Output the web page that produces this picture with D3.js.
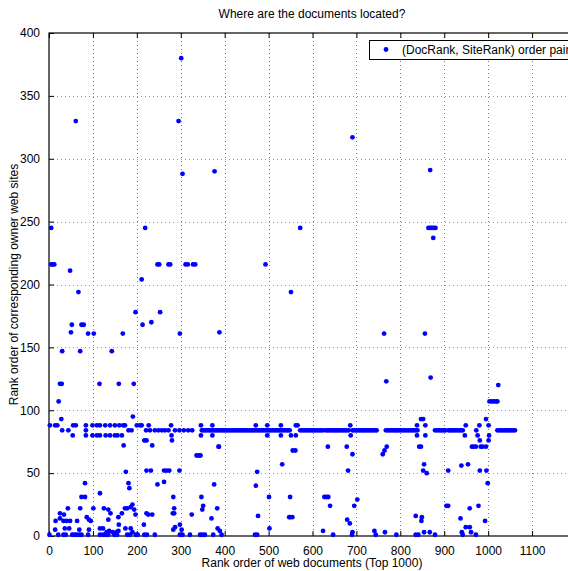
<!DOCTYPE html>
<html>
<head>
<meta charset="utf-8">
<script src="https://cdnjs.cloudflare.com/ajax/libs/d3/7.8.5/d3.min.js"></script>
<style>
  body { margin: 0; background: #fff; }
  text { font-family: "Liberation Sans", Arial, sans-serif; fill: #000; }
</style>
</head>
<body>
<script>
// tick values
var xTicks = [0, 100, 200, 300, 400, 500, 600, 700, 800, 900, 1000, 1100];
var yTicks = [0, 50, 100, 150, 200, 250, 300, 350, 400];

// scattered (DocRank, SiteRank) pairs
var upperPoints = [
  [5,245],[61,330],[219,245],[295,330],[301,380],[304,288],[377,290],[572,245],
  [691,317],[868,291],[864,245],[868,245],[872,245],[876,245],[880,245],[875,237]
];

var middlePoints = [
  [5,216],[8,216],[12,216],[48,211],[67,194],[30,147],[50,162],[52,168],[71,147],
  [74,168],[79,168],[89,161],[102,161],[115,121],[143,147],[159,121],[168,161],
  [193,121],[197,178],[211,204],[213,168],[233,170],[247,216],[251,216],[253,178],
  [272,216],[276,216],[298,161],[311,216],[316,216],[328,216],[333,216],[388,162],
  [493,216],[551,194],[763,161],[856,161],[768,123],[869,126],[1023,120],
  [25,121],[29,121]
];

var lowerLeftPoints = [
  [22,107],[28,93],[2,88],[14,88],[19,88],[30,84],[44,84],[55,88],[54,80],[61,88],
  [84,88],[84,84],[84,80],[170,72],[181,84],[188,84],[191,95],[200,88],[207,88],
  [211,88],[217,76],[222,76],[221,84],[227,88],[235,72],[278,88],[279,80],[280,76],
  [336,64],[341,64],[345,64],[346,88],[346,80],[372,88],[372,80],[386,71],
  [471,88],[497,88],[497,80],[528,88],[528,80],[531,57],
  [262,52],[268,52],[274,52],[297,52],
  [175,51],[181,42],[183,38],[222,52],[232,52],[247,41],[262,43],[82,42],[74,31],
  [82,31],[71,22],[101,22],[125,22],[135,21],[116,34],[43,22],[25,18],[34,17],
  [15,12],[25,14],[33,12],[40,12],[48,12],[64,12],[86,15],[91,13],[95,12],
  [140,18],[135,13],[158,15],[159,9],[173,22],[178,22],[186,23],[190,25],[197,17],
  [194,21],[166,18],[222,18],[226,17],[235,17],[216,9],
  [283,31],[285,22],[282,18],[285,18],[287,7],[298,9],[325,17],[347,31],[351,24],
  [349,21],[370,14],[376,41],[383,22],[387,71],[471,40],[474,51],[476,16],
  [501,31],[549,31],[549,15],[554,15]
];

var nearZeroPoints = [
  [1,1],[21,1],[33,1],[38,1],[53,1],[58,1],[63,1],[69,1],[74,1],[89,1],[116,1],
  [123,1],[129,1],[135,1],[149,1],[155,1],[178,1],[184,1],[198,1],[202,1],[217,1],
  [223,1],[241,1],[298,1],[304,1],[321,1],[344,1],[349,1],[355,1],[374,1],[393,1],
  [469,1],[474,1],
  [14,5],[36,6],[46,6],[69,5],[91,5],[116,6],[123,6],[137,4],[158,4],[174,6],
  [186,6],[190,3],[131,3],[145,3],[154,3],[283,5],[302,5],[384,6],[389,4],[502,6]
];

var lowerRightPoints = [
  [547,15],[555,68],[561,68],[627,31],[632,31],[636,31],[640,24],[624,4],[647,1],
  [679,13],[685,10],[695,24],[702,29],[691,3],[690,1],[741,4],[744,1],[765,3],
  [791,1],[635,71],[678,71],[691,65],[681,52],[760,65],[764,68],[769,71],[686,88],
  [687,80],[562,88],[566,88],[562,80],[551,80],
  [838,88],[838,80],[847,93],[852,93],[857,88],[857,80],[843,71],[847,71],[854,57],
  [852,52],[860,50],[835,16],[849,15],[848,12],[835,1],[841,1],[854,3],[867,3],
  [879,1],[905,24],[909,24],[909,52],[939,56],[954,57],[937,14],[958,22],[949,88],
  [947,80],[949,7],[940,3],[942,1],[958,7],[961,3],[972,1],[973,84],[976,80],
  [980,88],[963,71],[967,71],[972,71],[981,76],[983,71],[987,71],[995,71],[978,24],
  [981,52],[995,93],[1001,88],[1002,80],[1001,76],[996,52],[999,42],[993,12],
  [1003,107],[1008,107],[1013,107],[1018,107],[1021,107]
];

// documents whose owner site sits at rank 84 (the long horizontal band)
var band84Site = 84;
var band84Docs = [
  230,241,249,257,264,272,287,297,307,317,326,
  348,352,356,360,364,368,372,376,380,384,388,392,396,400,404,408,412,416,420,424,
  428,432,436,440,444,448,452,456,460,464,468,472,476,480,484,488,492,496,500,504,
  508,512,516,520,524,528,532,536,540,544,548,
  572,576,580,584,588,592,596,600,604,608,612,616,620,624,
  630,634,638,642,646,650,654,658,662,666,670,674,678,682,
  691,695,699,703,707,711,715,719,723,727,731,735,739,743,746,
  767,771,775,779,783,787,791,795,799,803,807,811,815,819,823,827,831,835,839,
  879,883,887,891,895,899,903,910,914,918,922,926,930,934,938,942,
  1021,1025,1029,1033,1037,1041,1045,1049,1053,1057,1061
];

// two short rows just above and below the band, near the start
var band88Docs = [99,109,116,128,139,150,160,169,173];
var band80Docs = [99,109,116,129,139,150,156,166];

var points = upperPoints.concat(middlePoints, lowerLeftPoints, nearZeroPoints, lowerRightPoints)
  .concat(band84Docs.map(function(d) { return [d, band84Site]; }))
  .concat(band88Docs.map(function(d) { return [d, 88]; }))
  .concat(band80Docs.map(function(d) { return [d, 80]; }));

var width = 568;
var height = 571;
var margin = { left: 49, right: 576, top: 33, bottom: 536 };

var svg = d3.select("body").append("svg")
  .attr("width", width)
  .attr("height", height);

svg.append("rect")
  .attr("width", width)
  .attr("height", height)
  .attr("fill", "#fff");

var x = d3.scaleLinear().domain([0, 1200]).range([margin.left, margin.right]);
var y = d3.scaleLinear().domain([0, 400]).range([margin.bottom, margin.top]);

// dotted grid
var grid = svg.append("g").attr("class", "grid");
grid.selectAll("line.vx")
  .data(xTicks.filter(function(d) { return d > 0; }))
  .enter().append("line")
  .attr("x1", function(d) { return Math.round(x(d)) + 0.5; })
  .attr("x2", function(d) { return Math.round(x(d)) + 0.5; })
  .attr("y1", margin.top)
  .attr("y2", margin.bottom)
  .attr("stroke", "#777")
  .attr("stroke-dasharray", "1,3");

grid.selectAll("line.hy")
  .data(yTicks.filter(function(d) { return d > 0 && d < 400; }))
  .enter().append("line")
  .attr("x1", margin.left)
  .attr("x2", margin.right)
  .attr("y1", function(d) { return Math.round(y(d)) + 0.5; })
  .attr("y2", function(d) { return Math.round(y(d)) + 0.5; })
  .attr("stroke", "#999")
  .attr("stroke-dasharray", "1,3");

// axes: ticks point inward like the original
var xAxis = d3.axisBottom(x).tickValues(xTicks).tickSizeInner(-5).tickSizeOuter(0)
  .tickPadding(10).tickFormat(d3.format("d"));
var yAxis = d3.axisLeft(y).tickValues(yTicks).tickSizeInner(-5).tickSizeOuter(0)
  .tickPadding(9).tickFormat(d3.format("d"));

var gx = svg.append("g")
  .attr("transform", "translate(0," + margin.bottom + ")")
  .call(xAxis);
var gy = svg.append("g")
  .attr("transform", "translate(" + margin.left + ",0)")
  .call(yAxis);

svg.append("g")
  .attr("transform", "translate(0," + margin.top + ")")
  .call(d3.axisTop(x).tickValues(xTicks).tickSizeInner(-5).tickSizeOuter(0).tickFormat(""))
  .select(".domain").remove();

[gx, gy].forEach(function(g) {
  g.selectAll("text")
    .style("font-family", "Liberation Sans, Arial, sans-serif")
    .style("font-size", "12px")
    .attr("fill", "#000");
  g.select(".domain").remove();
});

svg.selectAll(".tick line").attr("stroke", "#000");

// box
svg.append("rect")
  .attr("x", margin.left)
  .attr("y", margin.top)
  .attr("width", margin.right - margin.left)
  .attr("height", margin.bottom - margin.top)
  .attr("fill", "none")
  .attr("stroke", "#000")
  .attr("stroke-width", 1.2);

// points
svg.append("g")
  .selectAll("circle")
  .data(points)
  .enter().append("circle")
  .attr("cx", function(d) { return x(d[0]); })
  .attr("cy", function(d) { return y(d[1]); })
  .attr("r", 2.4)
  .attr("fill", "#0000ff");

// legend
var legend = svg.append("g").attr("class", "legend");
legend.append("rect")
  .attr("x", 369.5)
  .attr("y", 40.5)
  .attr("width", 240)
  .attr("height", 19)
  .attr("fill", "#fff")
  .attr("stroke", "#000");
legend.append("circle")
  .attr("cx", 386)
  .attr("cy", 49.5)
  .attr("r", 2.4)
  .attr("fill", "#0000ff");
legend.append("text")
  .attr("x", 402)
  .attr("y", 54)
  .style("font-size", "12px")
  .text("(DocRank, SiteRank) order pair");

// titles
svg.append("text")
  .attr("x", 312)
  .attr("y", 18)
  .attr("text-anchor", "middle")
  .style("font-size", "12px")
  .text("Where are the documents located?");

svg.append("text")
  .attr("x", 312)
  .attr("y", 567)
  .attr("text-anchor", "middle")
  .style("font-size", "12px")
  .text("Rank order of web documents (Top 1000)");

svg.append("text")
  .attr("transform", "translate(18," + ((margin.top + margin.bottom) / 2) + ") rotate(-90)")
  .attr("text-anchor", "middle")
  .style("font-size", "12px")
  .text("Rank order of corresponding owner web sites");
</script>
</body>
</html>
